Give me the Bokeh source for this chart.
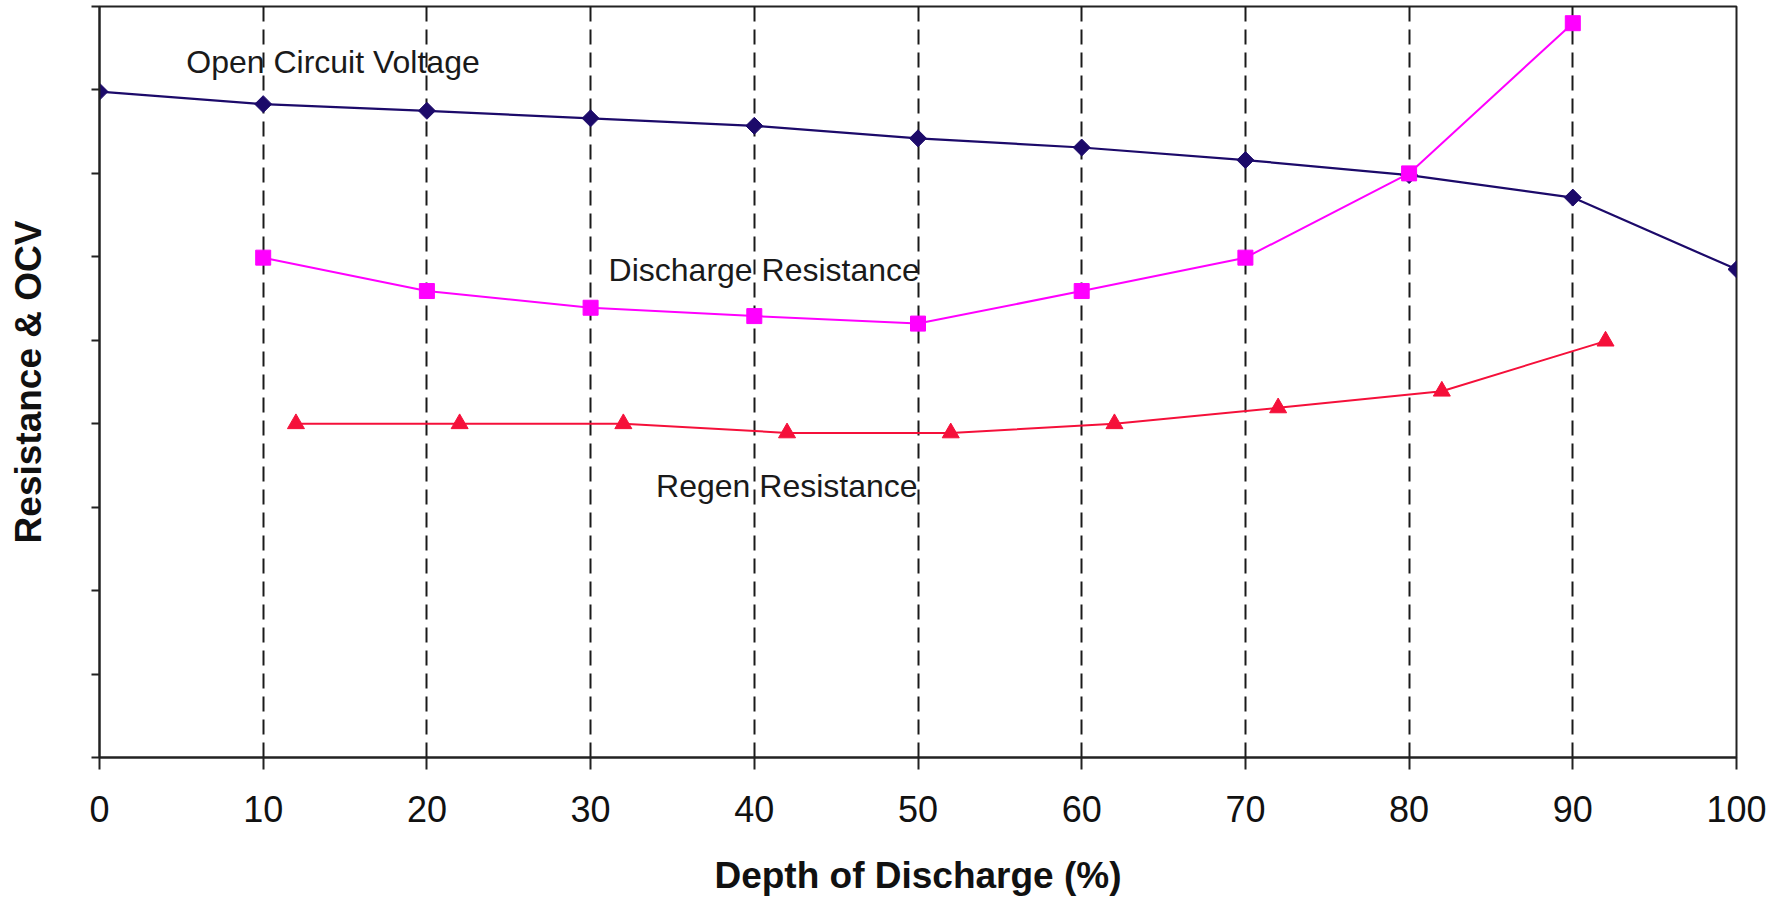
import math
from bokeh.plotting import figure
from bokeh.models import Range1d, FixedTicker
from bokeh.core.properties import value
from bokeh.embed import file_html
from bokeh.resources import INLINE

# ---- data (y in unlabeled axis units 0..9) ----
ocv_x = [0, 10, 20, 30, 40, 50, 60, 70, 80, 90, 100]
ocv_y = [7.98, 7.83, 7.75, 7.66, 7.57, 7.42, 7.31, 7.16, 6.98, 6.71, 5.85]

dis_x = [10, 20, 30, 40, 50, 60, 70, 80, 90]
dis_y = [5.99, 5.59, 5.39, 5.29, 5.20, 5.59, 5.99, 7.00, 8.80]

regen_x = [12, 22, 32, 42, 52, 62, 72, 82, 92]
regen_y = [4.00, 4.00, 4.00, 3.89, 3.89, 4.00, 4.19, 4.39, 4.99]

x_ticks = [0, 10, 20, 30, 40, 50, 60, 70, 80, 90, 100]
y_ticks = [0, 1, 2, 3, 4, 5, 6, 7, 8, 9]

series_labels = ["Open Circuit Voltage", "Discharge Resistance", "Regen Resistance"]
label_x = [5.3, 31.1, 34.0]
label_y = [8.34, 5.84, 3.25]

FONT = "Liberation Sans"

p = figure(width=1770, height=898, output_backend="svg", toolbar_location=None,
           x_range=Range1d(0, 100), y_range=Range1d(0, 9),
           min_border_left=99, min_border_right=34, min_border_top=6,
           min_border_bottom=141)
p.background_fill_color = "white"
p.border_fill_color = "white"
p.outline_line_color = "#222222"
p.outline_line_width = 2

# x axis
p.xaxis.ticker = FixedTicker(ticks=x_ticks)
p.xaxis.axis_label = "Depth of Discharge (%)"
p.xaxis.axis_label_text_font = FONT
p.xaxis.axis_label_text_font_style = "bold"
p.xaxis.axis_label_text_font_size = "37px"
p.xaxis.axis_label_text_color = "#111111"
p.xaxis.axis_label_standoff = 30
p.xaxis.major_label_text_font = FONT
p.xaxis.major_label_text_font_size = "36px"
p.xaxis.major_label_text_color = "#111111"
p.xaxis.major_label_standoff = 26
p.xaxis.axis_line_color = "#222222"
p.xaxis.axis_line_width = 2
p.xaxis.major_tick_line_color = "#222222"
p.xaxis.major_tick_line_width = 2
p.xaxis.major_tick_out = 12
p.xaxis.major_tick_in = 0
p.xaxis.minor_tick_line_color = None

# y axis
p.yaxis.ticker = FixedTicker(ticks=y_ticks)
p.yaxis.major_label_overrides = {t: "" for t in y_ticks}
p.yaxis.major_label_standoff = 0
p.yaxis.axis_label = "Resistance & OCV"
p.yaxis.axis_label_text_font = FONT
p.yaxis.axis_label_text_font_style = "bold"
p.yaxis.axis_label_text_font_size = "37px"
p.yaxis.axis_label_text_color = "#111111"
p.yaxis.axis_label_standoff = 43
p.yaxis.axis_line_color = "#222222"
p.yaxis.axis_line_width = 2
p.yaxis.major_tick_line_color = "#222222"
p.yaxis.major_tick_line_width = 2
p.yaxis.major_tick_out = 8
p.yaxis.major_tick_in = 0
p.yaxis.minor_tick_line_color = None

# grid
p.ygrid.grid_line_color = None
p.xgrid.grid_line_color = "#1a1a1a"
p.xgrid.grid_line_width = 2
p.xgrid.grid_line_dash = "15 8"

# series
ocv_c = "#1C0A6A"
dis_c = "#FF00FF"
reg_c = "#F5103A"

p.line(ocv_x, ocv_y, line_color=ocv_c, line_width=2.2)
p.scatter(ocv_x, ocv_y, marker="square", angle=math.pi / 4, size=12,
          fill_color=ocv_c, line_color=ocv_c)

p.line(dis_x, dis_y, line_color=dis_c, line_width=2)
p.scatter(dis_x, dis_y, marker="square", size=15, fill_color=dis_c, line_color=dis_c)

p.line(regen_x, regen_y, line_color=reg_c, line_width=2)
p.scatter(regen_x, regen_y, marker="triangle", size=17, fill_color=reg_c, line_color=reg_c)

p.text(x=label_x, y=label_y, text=series_labels, text_font=value(FONT),
       text_font_size="32px", text_color="#1a1a1a", text_align="left",
       text_baseline="middle")

open("out.html", "w").write(file_html(p, INLINE))
